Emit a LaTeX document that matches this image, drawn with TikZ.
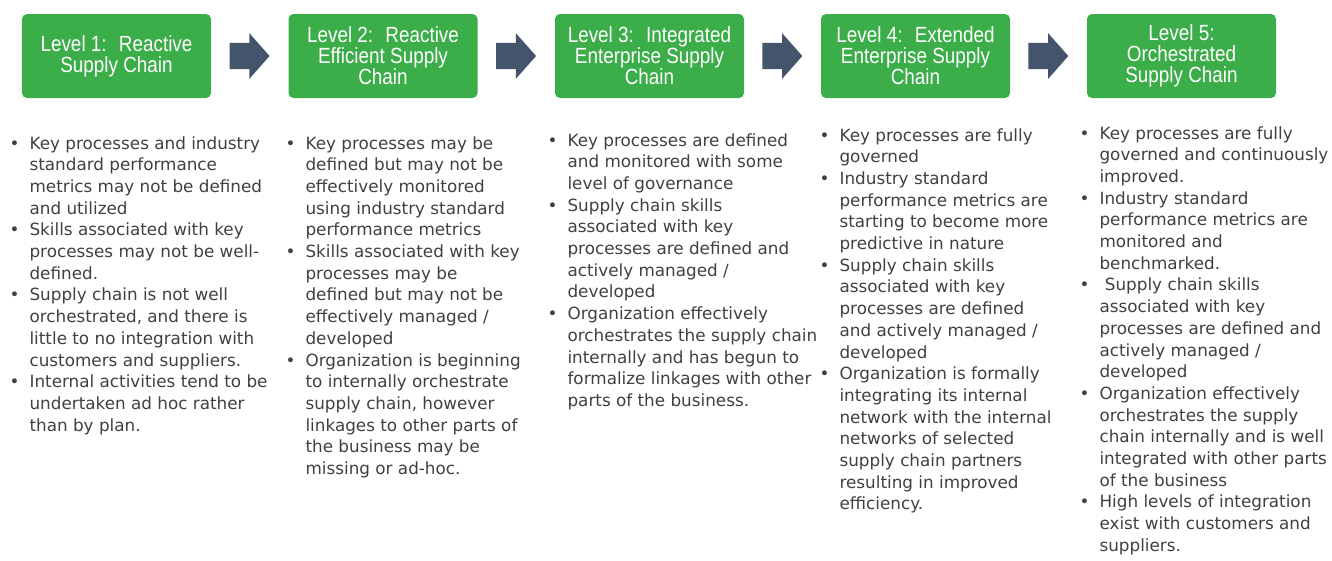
\documentclass[tikz,border=0pt]{standalone}
\usepackage{fontspec}
\usetikzlibrary{shapes.arrows,calc}
\newfontfamily\bodyfont{DejaVu Sans}
\newfontfamily\titlefont[FakeStretch=0.86]{Liberation Sans}
\definecolor{lvgreen}{RGB}{59,173,73}
\definecolor{arrowgray}{RGB}{68,84,106}
\definecolor{txtgray}{RGB}{64,64,64}
\newcommand{\bul}{\textbullet}

\tikzset{every picture/.style={line width=0.75pt},
	level/.style={fill=lvgreen,rounded corners=1mm,minimum width=37.8mm,minimum height=16.8mm,inner sep=0pt,align=center,text=white,font=\titlefont\fontsize{12.5pt}{11.95pt}\selectfont},
	flow/.style={single arrow,fill=arrowgray,minimum height=8mm,inner xsep=0pt,inner ysep=2.5mm,single arrow head extend=1.95mm,single arrow tip angle=97,xshift=-1.2mm},
	items/.style={anchor=base west,inner sep=0pt,text=txtgray,font=\bodyfont\fontsize{9.56pt}{12.35pt}\selectfont}}

\begin{document}
\begin{tikzpicture}[x=0.2mm,y=-0.2mm]
	\useasboundingbox (0,0) rectangle (1332,560);
	%Level boxes
	\node[level] (lv1) at (116.5,56) {Level 1:~ Reactive\\Supply Chain};
	\node[level] (lv2) at (383,56) {Level 2:~ Reactive\\Efficient Supply\\Chain};
	\node[level] (lv3) at (649.5,56) {Level 3:~ Integrated\\Enterprise Supply\\Chain};
	\node[level] (lv4) at (915.5,56) {Level 4:~ Extended\\Enterprise Supply\\Chain};
	\node[level] (lv5) at (1181.5,56) {Level 5:\\Orchestrated\\Supply Chain};
	%Arrows
	\node[flow] (ar12) at ($(lv1.east)!0.5!(lv2.west)$) {};
	\node[flow] (ar23) at ($(lv2.east)!0.5!(lv3.west)$) {};
	\node[flow] (ar34) at ($(lv3.east)!0.5!(lv4.west)$) {};
	\node[flow] (ar45) at ($(lv4.east)!0.5!(lv5.west)$) {};
	%Column 1
	\node[items] (tx1) at (9,149) {\begin{tabular}[t]{@{}l@{\hspace{2mm}}l@{}}
		\bul & Key processes and industry\\
		 & standard performance\\
		 & metrics may not be defined\\
		 & and utilized\\
		\bul & Skills associated with key\\
		 & processes may not be well-\\
		 & defined.\\
		\bul & Supply chain is not well\\
		 & orchestrated, and there is\\
		 & little to no integration with\\
		 & customers and suppliers.\\
		\bul & Internal activities tend to be\\
		 & undertaken ad hoc rather\\
		 & than by plan.
	\end{tabular}};
	%Column 2
	\node[items] (tx2) at (285,149) {\begin{tabular}[t]{@{}l@{\hspace{2mm}}l@{}}
		\bul & Key processes may be\\
		 & defined but may not be\\
		 & effectively monitored\\
		 & using industry standard\\
		 & performance metrics\\
		\bul & Skills associated with key\\
		 & processes may be\\
		 & defined but may not be\\
		 & effectively managed /\\
		 & developed\\
		\bul & Organization is beginning\\
		 & to internally orchestrate\\
		 & supply chain, however\\
		 & linkages to other parts of\\
		 & the business may be\\
		 & missing or ad-hoc.
	\end{tabular}};
	%Column 3
	\node[items] (tx3) at (547,146) {\begin{tabular}[t]{@{}l@{\hspace{2mm}}l@{}}
		\bul & Key processes are defined\\
		 & and monitored with some\\
		 & level of governance\\
		\bul & Supply chain skills\\
		 & associated with key\\
		 & processes are defined and\\
		 & actively managed /\\
		 & developed\\
		\bul & Organization effectively\\
		 & orchestrates the supply chain\\
		 & internally and has begun to\\
		 & formalize linkages with other\\
		 & parts of the business.
	\end{tabular}};
	%Column 4
	\node[items] (tx4) at (819,141) {\begin{tabular}[t]{@{}l@{\hspace{2mm}}l@{}}
		\bul & Key processes are fully\\
		 & governed\\
		\bul & Industry standard\\
		 & performance metrics are\\
		 & starting to become more\\
		 & predictive in nature\\
		\bul & Supply chain skills\\
		 & associated with key\\
		 & processes are defined\\
		 & and actively managed /\\
		 & developed\\
		\bul & Organization is formally\\
		 & integrating its internal\\
		 & network with the internal\\
		 & networks of selected\\
		 & supply chain partners\\
		 & resulting in improved\\
		 & efficiency.
	\end{tabular}};
	%Column 5
	\node[items] (tx5) at (1079,139) {\begin{tabular}[t]{@{}l@{\hspace{2mm}}l@{}}
		\bul & Key processes are fully\\
		 & governed and continuously\\
		 & improved.\\
		\bul & Industry standard\\
		 & performance metrics are\\
		 & monitored and\\
		 & benchmarked.\\
		\bul & \ Supply chain skills\\
		 & associated with key\\
		 & processes are defined and\\
		 & actively managed /\\
		 & developed\\
		\bul & Organization effectively\\
		 & orchestrates the supply\\
		 & chain internally and is well\\
		 & integrated with other parts\\
		 & of the business\\
		\bul & High levels of integration\\
		 & exist with customers and\\
		 & suppliers.
	\end{tabular}};
\end{tikzpicture}
\end{document}
